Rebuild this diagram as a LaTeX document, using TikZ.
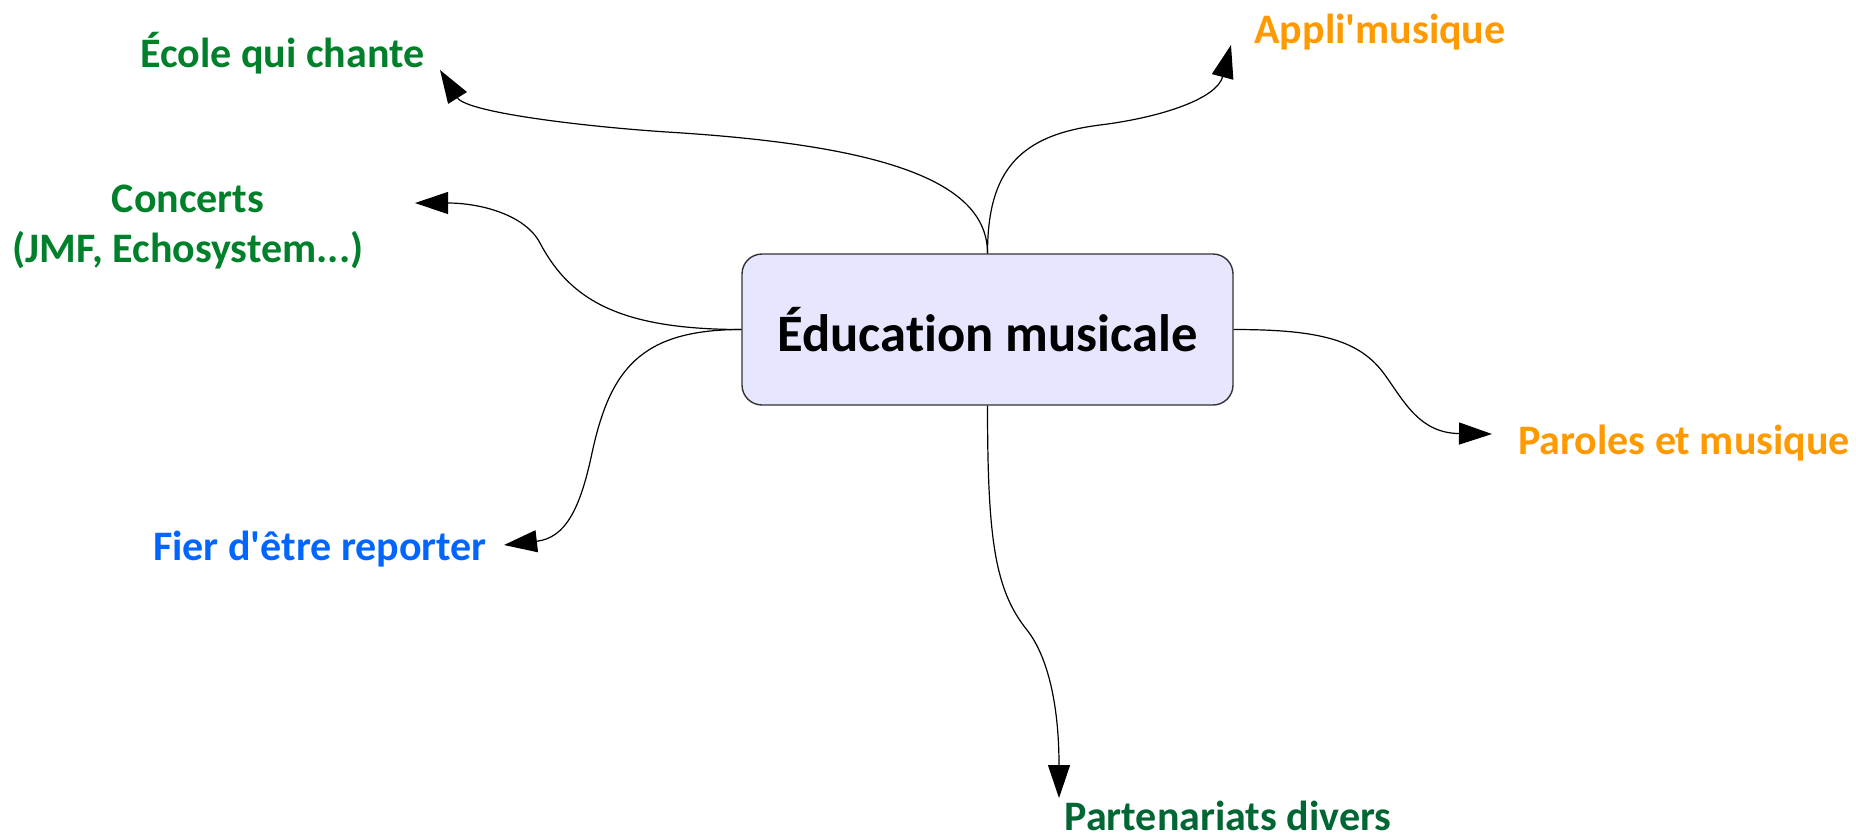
\documentclass[tikz,border=0pt]{standalone}
\usepackage{fontspec}
\setmainfont{Carlito}[RawFeature=-liga]
\usepackage{xcolor}
\usepackage{tikz}
\usetikzlibrary{arrows.meta, positioning}
\definecolor{chantgreen}{RGB}{0,128,43}
\definecolor{partgreen}{RGB}{0,102,51}
\definecolor{appliorange}{RGB}{255,153,0}
\definecolor{reporterblue}{RGB}{0,102,255}
\definecolor{boxlavender}{RGB}{230,230,255}

\begin{document}
\begin{tikzpicture}[
    x=0.5pt, y=-0.5pt,
    topic/.style={rectangle, draw=black!80, line width=0.7pt, rounded corners=10pt, fill=boxlavender, minimum width=245.5pt, minimum height=75.5pt, inner sep=0pt, font=\fontsize{26.3}{30}\selectfont\bfseries},
    branch/.style={anchor=base, inner sep=0pt, align=center, font=\fontsize{21}{25}\selectfont\bfseries},
    arrow/.style={-{Triangle[length=16.5pt, width=11pt]}, line width=0.6pt}
]
\useasboundingbox (0,0) rectangle (1856,837);

\node[topic] (edu) at (987.5,329.5) {Éducation musicale};

\node[branch, text=chantgreen] (ecole) at (282.5,67) {École qui chante};
\node[branch, text=chantgreen] (concerts) at (188,262) {Concerts\\(JMF, Echosystem...)};
\node[branch, text=reporterblue] (reporter) at (320,560) {Fier d\textquotesingle être reporter};
\node[branch, text=appliorange] (appli) at (1380,43) {Appli\textquotesingle musique};
\node[branch, text=appliorange] (paroles) at (1684,454) {Paroles et musique};
\node[branch, text=partgreen] (partenariats) at (1228,830) {Partenariats divers};

% arrow tips
\coordinate (ecoletip) at (440,70);
\coordinate (concertstip) at (415,203);
\coordinate (reportertip) at (504,545);
\coordinate (applitip) at (1231,45);
\coordinate (parolestip) at (1492,434);
\coordinate (partenariatstip) at (1059,798);

\draw[arrow] (edu.north) .. controls (987.5,180) and (880,145) .. (667,132) .. controls (590,127) and (467,113) .. (ecoletip);
\draw[arrow] (edu.north) .. controls (987.5,170) and (1020,135) .. (1100,125) .. controls (1164,117) and (1217,98) .. (applitip);
\draw[arrow] (edu.west) .. controls (620,329.5) and (570,300) .. (540,243) .. controls (525,214.5) and (480,203) .. (concertstip);
\draw[arrow] (edu.west) .. controls (640,329.5) and (610,370) .. (592,453) .. controls (580,510) and (565,538) .. (reportertip);
\draw[arrow] (edu.east) .. controls (1320,329.5) and (1360,340) .. (1385,375) .. controls (1405,403) and (1420,433) .. (parolestip);
\draw[arrow] (edu.south) .. controls (987.5,540) and (995,590) .. (1027,630) .. controls (1046,654) and (1059,700) .. (partenariatstip);

\end{tikzpicture}
\end{document}
